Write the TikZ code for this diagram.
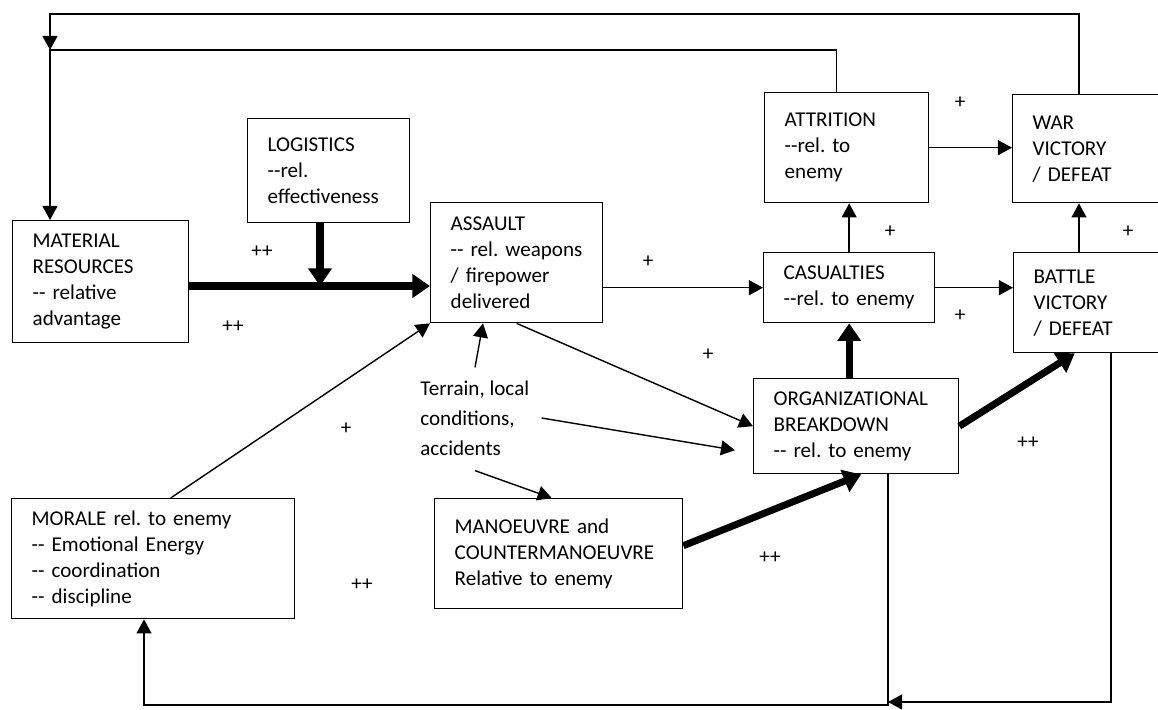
\documentclass[tikz,border=0pt]{standalone}
\usepackage{fontspec}
\setmainfont{Carlito}
\usetikzlibrary{arrows.meta,positioning,calc}
\hyphenpenalty=10000
\exhyphenpenalty=10000

\begin{document}
\begin{tikzpicture}[
    x=0.02cm, y=-0.02cm,
    factor/.style={
      rectangle, draw, line width=0.8pt, anchor=north west, align=left,
      inner xsep=0.4cm, inner ysep=2pt,
      font=\fontsize{12pt}{14.8pt}\selectfont\frenchspacing
    },
    sgn/.style={font=\fontsize{12pt}{14.8pt}\selectfont, inner sep=0pt},
    arr/.style={-{Triangle[length=8pt,width=8.5pt]}, line width=0.8pt},
    thk/.style={-{Triangle[length=10pt,width=13pt]}, line width=4pt}
  ]
  \useasboundingbox (0,0) rectangle (1158,709);

  \node[factor, text width=2.72cm, minimum height=2.44cm] (mat) at (12,220)
    {MATERIAL\\RESOURCES\\-{}- relative\\advantage};
  \node[factor, text width=2.44cm, minimum height=2.08cm] (log) at (247,118)
    {LOGISTICS\\-{}-rel.\\effectiveness};
  \node[factor, text width=2.64cm, minimum height=2.4cm] (asl) at (430,202)
    {ASSAULT\\-{}- rel. weapons\\/ firepower\\delivered};
  \node[factor, text width=2.48cm, minimum height=2.2cm] (att) at (764,92)
    {ATTRITION\\-{}-rel. to\\enemy};
  \node[factor, text width=2.2cm, minimum height=2.16cm] (war) at (1012,94)
    {WAR\\VICTORY\\/ DEFEAT};
  \node[factor, text width=2.62cm, minimum height=1.4cm] (cas) at (763,252)
    {CASUALTIES\\-{}-rel. to enemy};
  \node[factor, text width=2.2cm, minimum height=2.0cm] (bat) at (1013,252)
    {BATTLE\\VICTORY\\/ DEFEAT};
  \node[factor, text width=3.3cm, minimum height=1.9cm] (org) at (753,378)
    {ORGANIZATIONAL\\BREAKDOWN\\-{}- rel. to enemy};
  \node[factor, text width=4.16cm, minimum height=2.2cm] (man) at (434,498)
    {MANOEUVRE and\\COUNTERMANOEUVRE\\Relative to enemy};
  \node[factor, text width=4.86cm, minimum height=2.4cm] (mor) at (11,498)
    {MORALE rel. to enemy\\-{}- Emotional Energy\\-{}- coordination\\-{}- discipline};

  \node[sgn, align=left, anchor=west, font=\fontsize{12pt}{17pt}\selectfont]
    (terr) at (420,418) {Terrain, local\\conditions,\\accidents};

  \node[sgn] (s1) at (262,252) {++};
  \node[sgn] (s2) at (233,327) {++};
  \node[sgn] (s3) at (648,262) {+};
  \node[sgn] (s4) at (960,103) {+};
  \node[sgn] (s5) at (890,232) {+};
  \node[sgn] (s6) at (960,316) {+};
  \node[sgn] (s7) at (1128,232) {+};
  \node[sgn] (s8) at (708,355) {+};
  \node[sgn] (s9) at (346,429) {+};
  \node[sgn] (s10) at (362,585) {++};
  \node[sgn] (s11) at (770,558) {++};
  \node[sgn] (s12) at (1028,443) {++};

  \coordinate (j) at (320,286);
  \coordinate (wx) at (1079,0);
  \coordinate (tl) at (50,14);
  \coordinate (ml) at (50,50);
  \coordinate (ob) at (888,705);
  \coordinate (mb) at (144,705);
  \coordinate (bb) at (1111,702);
  \coordinate (orgw) at ([shift={(-18,24)}]org.west);

  \draw[thk] (mat.east |- j) -- (asl.west |- j);
  \draw[thk] (log.south -| j) -- (j);
  \draw[arr] (asl.east |- cas.west) -- (cas.west);
  \draw[arr] (cas.north) -- (cas.north |- att.south);
  \draw[arr] (att.east) -- (att.east -| war.west);
  \draw[arr] (cas.east) -- (cas.east -| bat.west);
  \draw[arr] (bat.north -| wx) -- (war.south -| wx);
  \draw[arr] (war.north -| wx) |- (tl) -- (ml);
  \draw[arr] ([xshift=-0.2cm]att.north) |- (ml) -- (mat.north -| ml);
  \draw[thk] (org.north -| cas.south) -- (cas.south);
  \draw[thk] (org.east) -- ([xshift=-0.28cm]bat.south);
  \draw[thk] ([yshift=0.16cm]man.east) -- ([xshift=0.1cm]org.south);
  \draw[arr] (asl.south) -- (org.west);
  \draw[arr] ([xshift=0.35cm]mor.north) -- (asl.south west);
  \draw[arr] ([shift={(55,-13)}]terr.north west) -- (asl.south -| 483,0);
  \draw[arr] ([xshift=0.24cm]terr.east) -- (orgw);
  \draw[arr] ([shift={(55,15)}]terr.south west) -- ([xshift=-0.14cm]man.north);
  \draw[arr] (org.south -| ob) -- (ob) -- (mb) -- (mor.south -| mb);
  \draw[arr] (bat.south -| bb) -- (bb) -- (bb -| ob);
\end{tikzpicture}
\end{document}
